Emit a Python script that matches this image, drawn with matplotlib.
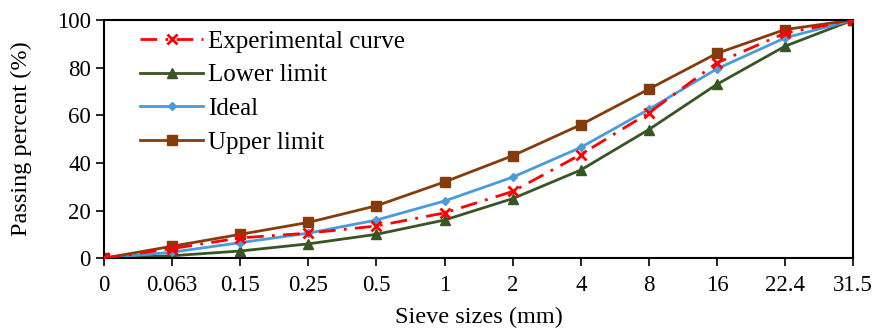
import matplotlib.pyplot as plt

# tamices y porcentajes que pasan
sieve_labels = ['0', '0.063', '0.15', '0.25', '0.5', '1', '2', '4', '8', '16', '22.4', '31.5']
experimental = [0, 4, 8.5, 10.5, 13.5, 19, 28, 43.5, 61, 82, 94.5, 100]
lower_limit = [0, 1, 3, 6, 10, 16, 25, 37, 54, 73, 89, 100]
ideal = [0, 2.5, 6.5, 10.5, 16, 24, 34, 46.5, 62.5, 79.5, 92.5, 100]
upper_limit = [0, 5, 10, 15, 22, 32, 43, 56, 71, 86, 96, 100]

plt.rcParams['font.family'] = ['Liberation Serif', 'DejaVu Serif']

fig = plt.figure(figsize=(8.75, 3.28), dpi=100)
ax = fig.add_axes([0.119, 0.213, 0.856, 0.726])

x = list(range(len(sieve_labels)))
ax.plot(x, experimental, color='#FF0000', linestyle=(0, (6, 3, 1, 3)), linewidth=2,
        marker='x', markersize=7, markeredgewidth=2, label='Experimental curve', zorder=5)
ax.plot(x, lower_limit, color='#375623', linewidth=2, marker='^', markersize=7,
        label='Lower limit')
ax.plot(x, ideal, color='#4A9BDC', linewidth=2, marker='D', markersize=4,
        label='Ideal')
ax.plot(x, upper_limit, color='#843C0C', linewidth=2, marker='s', markersize=7,
        label='Upper limit')

ax.set_xlim(0, len(sieve_labels) - 1)
ax.set_ylim(0, 100)
ax.set_xticks(x)
ax.set_xticklabels(sieve_labels)
ax.set_yticks([0, 20, 40, 60, 80, 100])
ax.tick_params(axis='both', labelsize=16.5, direction='out', length=6, width=1.2)
ax.tick_params(axis='x', pad=6)
for s in ax.spines.values():
    s.set_linewidth(1.5)

ax.set_xlabel('Sieve sizes (mm)', fontsize=17.5, labelpad=8)
ax.set_ylabel('Passing percent (%)', fontsize=17.5, labelpad=18)

ax.legend(loc='upper left', bbox_to_anchor=(0.035, 1.0), borderaxespad=0, frameon=False,
          fontsize=18, handlelength=2.5, handletextpad=0.2, labelspacing=0.45)

fig.savefig('out.png', dpi=100)
